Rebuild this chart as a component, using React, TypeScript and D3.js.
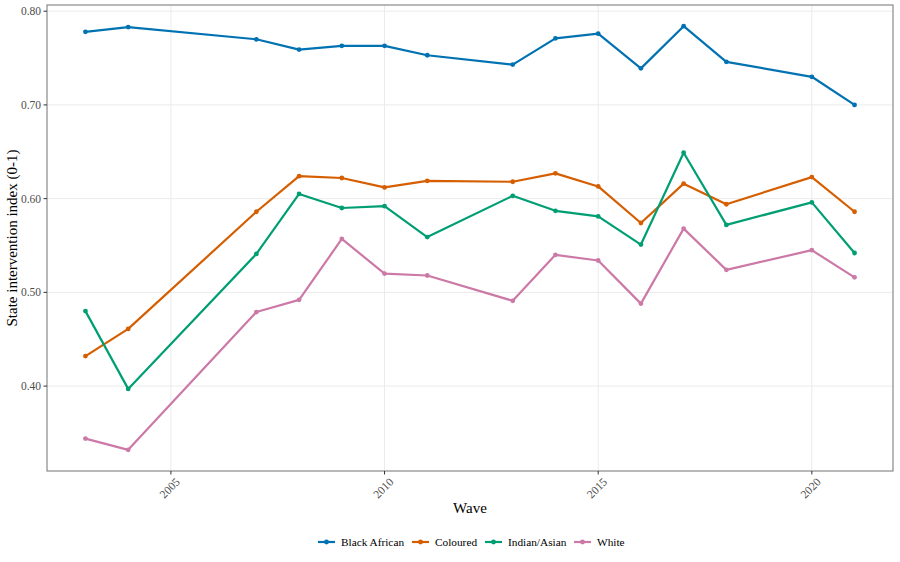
import { scaleLinear, line } from "d3"

const waves = [2003, 2004, 2007, 2008, 2009, 2010, 2011, 2013, 2014, 2015, 2016, 2017, 2018, 2020, 2021]
const groups = ["Black African", "Coloured", "Indian/Asian", "White"]
const blackAfrican = [0.778, 0.783, 0.770, 0.759, 0.763, 0.763, 0.753, 0.743, 0.771, 0.776, 0.739, 0.784, 0.746, 0.730, 0.700]
const coloured = [0.432, 0.461, 0.586, 0.624, 0.622, 0.612, 0.619, 0.618, 0.627, 0.613, 0.574, 0.616, 0.594, 0.623, 0.586]
const indianAsian = [0.480, 0.397, 0.541, 0.605, 0.590, 0.592, 0.559, 0.603, 0.587, 0.581, 0.551, 0.649, 0.572, 0.596, 0.542]
const white = [0.344, 0.332, 0.479, 0.492, 0.557, 0.520, 0.518, 0.491, 0.540, 0.534, 0.488, 0.568, 0.524, 0.545, 0.516]
const yTicks = [0.4, 0.5, 0.6, 0.7, 0.8]
const xTicks = [2005, 2010, 2015, 2020]

const colors = ["#0072B2", "#D55E00", "#009E73", "#CC79A7"]
const seriesValues = [blackAfrican, coloured, indianAsian, white]
const FONT = "'Liberation Serif', 'Times New Roman', Times, serif"

function App() {
  const width = 900
  const height = 562
  const panel = { left: 47, right: 893, top: 5, bottom: 471 }

  // ggplot-style 5% expansion
  const allVals = seriesValues.flat()
  const yMin = Math.min(...allVals)
  const yMax = Math.max(...allVals)
  const yPad = (yMax - yMin) * 0.05
  const xPad = (waves[waves.length - 1] - waves[0]) * 0.05

  const xScale = scaleLinear()
    .domain([waves[0] - xPad, waves[waves.length - 1] + xPad])
    .range([panel.left, panel.right])
  const yScale = scaleLinear()
    .domain([yMin - yPad, yMax + yPad])
    .range([panel.bottom, panel.top])

  const path = line<number>()
    .x((_, i) => xScale(waves[i]))
    .y((d) => yScale(d))

  // legend key start positions
  const legendX = [318, 412, 485, 574]

  return (
    <div style={{ position: "fixed", left: 0, top: 0 }}>
      <svg width={width} height={height} style={{ display: "block", background: "#fff", fontFamily: FONT }}>
        {/* grid */}
        {yTicks.map((t) => (
          <line key={"gy" + t} x1={panel.left} x2={panel.right} y1={yScale(t)} y2={yScale(t)} stroke="#ebebeb" strokeWidth={1} />
        ))}
        {xTicks.map((t) => (
          <line key={"gx" + t} x1={xScale(t)} x2={xScale(t)} y1={panel.top} y2={panel.bottom} stroke="#ebebeb" strokeWidth={1} />
        ))}

        {/* series */}
        {seriesValues.map((vals, s) => (
          <g key={groups[s]}>
            <path d={path(vals) || ""} fill="none" stroke={colors[s]} strokeWidth={2.2} strokeLinejoin="round" />
            {vals.map((v, i) => (
              <circle key={i} cx={xScale(waves[i])} cy={yScale(v)} r={2.4} fill={colors[s]} />
            ))}
          </g>
        ))}

        {/* panel border */}
        <rect x={panel.left} y={panel.top} width={panel.right - panel.left} height={panel.bottom - panel.top} fill="none" stroke="#7f7f7f" strokeWidth={1.1} />

        {/* y axis */}
        {yTicks.map((t) => (
          <g key={"yt" + t}>
            <line x1={panel.left - 3.5} x2={panel.left} y1={yScale(t)} y2={yScale(t)} stroke="#333" strokeWidth={1} />
            <text x={panel.left - 6} y={yScale(t)} dy="0.35em" textAnchor="end" fontSize={11.5} fill="#4d4d4d">
              {t.toFixed(2)}
            </text>
          </g>
        ))}
        {/* x axis */}
        {xTicks.map((t) => (
          <g key={"xt" + t}>
            <line x1={xScale(t)} x2={xScale(t)} y1={panel.bottom} y2={panel.bottom + 3.5} stroke="#333" strokeWidth={1} />
            <text
              transform={`translate(${xScale(t) + 4},${panel.bottom + 6}) rotate(-45)`}
              textAnchor="end"
              dy="0.7em"
              fontSize={11.5}
              fill="#4d4d4d"
            >
              {t}
            </text>
          </g>
        ))}

        <text x={(panel.left + panel.right) / 2} y={513} textAnchor="middle" fontSize={15} fill="#000">
          Wave
        </text>
        <text transform={`translate(17,${(panel.top + panel.bottom) / 2}) rotate(-90)`} textAnchor="middle" fontSize={15} fill="#000">
          State intervention index (0-1)
        </text>

        {/* legend */}
        {groups.map((g, i) => (
          <g key={g} transform={`translate(${legendX[i]},542)`}>
            <line x1={0} x2={17} y1={0} y2={0} stroke={colors[i]} strokeWidth={2.2} />
            <circle cx={8.5} cy={0} r={2.4} fill={colors[i]} />
            <text x={23} y={0} dy="0.35em" fontSize={11.3} fill="#000">
              {g}
            </text>
          </g>
        ))}
      </svg>
    </div>
  )
}

export default App
